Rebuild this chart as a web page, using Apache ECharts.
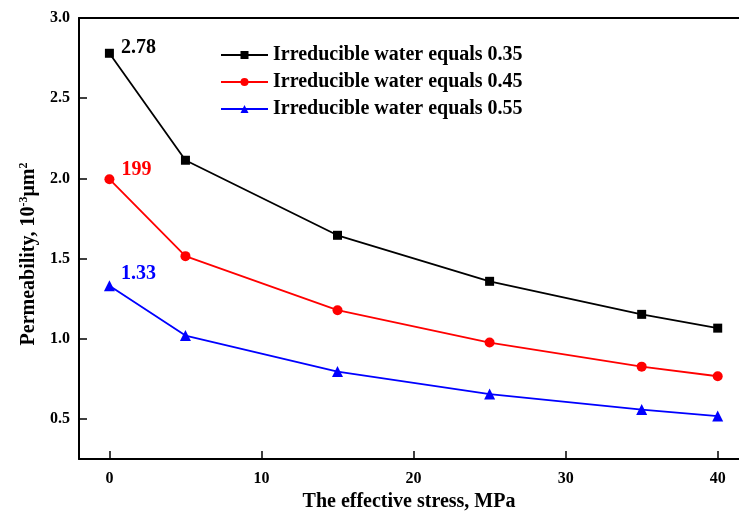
<!DOCTYPE html>
<html>
<head>
<meta charset="utf-8">
<script src="https://cdn.jsdelivr.net/npm/echarts@6/dist/echarts.min.js"></script>
<style>html,body{margin:0;padding:0;background:#fff;}#c{width:739px;height:518px;}</style>
</head>
<body>
<div id="c"></div>
<script>
var stress = [0, 5, 15, 25, 35, 40];
var water035 = [2.78, 2.113, 1.645, 1.358, 1.152, 1.066];
var water045 = [1.995, 1.515, 1.178, 0.976, 0.826, 0.766];
var water055 = [1.33, 1.02, 0.795, 0.655, 0.558, 0.518];
var seriesNames = ['Irreducible water equals 0.35', 'Irreducible water equals 0.45', 'Irreducible water equals 0.55'];
var firstLabels = ['2.78', '199', '1.33'];
var xTicks = [0, 10, 20, 30, 40];
var yTicks = [0.5, 1.0, 1.5, 2.0, 2.5, 3.0];

var FONT = '"Liberation Serif", "Times New Roman", serif';
var colors = ['#000000', '#ff0000', '#0000ff'];
var symbols = ['rect', 'circle', 'triangle'];
var symSizes = [9, 10, 11];
var labelOffsets = [[-4, -5], [-4, -9], [-5, -12]];
var values = [water035, water045, water055];

function makeSeries(i) {
  var data = stress.map(function (x, k) {
    var item = { value: [x, values[i][k]] };
    if (k === 0) {
      item.label = {
        show: true, position: 'right', distance: 11, offset: labelOffsets[i],
        formatter: firstLabels[i], color: colors[i],
        fontFamily: FONT, fontWeight: 'bold', fontSize: 20
      };
    }
    return item;
  });
  return {
    name: seriesNames[i], type: 'line', data: data,
    symbol: symbols[i], symbolSize: symSizes[i], showSymbol: true,
    lineStyle: { color: colors[i], width: 1.8 },
    itemStyle: { color: colors[i] },
    label: { show: false },
    emphasis: { disabled: true },
    animation: false, z: 3 - i
  };
}

var chart = echarts.init(document.getElementById('c'));
chart.setOption({
  backgroundColor: '#ffffff',
  animation: false,
  grid: { left: 79, top: 18, right: 0, bottom: 59 },
  legend: {
    orient: 'vertical', left: 220, top: 45, itemGap: 7, padding: 0,
    itemWidth: 47, itemHeight: 10,
    data: seriesNames,
    textStyle: { fontFamily: FONT, fontWeight: 'bold', fontSize: 20, color: '#000', lineHeight: 20 }
  },
  xAxis: [{
    type: 'value', min: -2, max: 41.4,
    splitLine: { show: false },
    axisLine: { onZero: false, lineStyle: { color: '#000', width: 2 } },
    axisTick: { inside: true, length: 8, customValues: xTicks, lineStyle: { color: '#000', width: 1.5 } },
    axisLabel: { customValues: xTicks, margin: 12, color: '#000', fontFamily: FONT, fontWeight: 'bold', fontSize: 16 },
    name: 'The effective stress, MPa', nameLocation: 'middle', nameGap: 25,
    nameTextStyle: { fontFamily: FONT, fontWeight: 'bold', fontSize: 20, color: '#000' }
  }, {
    type: 'value', position: 'top', min: -2, max: 41.4,
    splitLine: { show: false },
    axisLine: { show: true, onZero: false, lineStyle: { color: '#000', width: 2 } },
    axisTick: { show: false }, axisLabel: { show: false }
  }],
  yAxis: {
    type: 'value', min: 0.25, max: 3.0,
    splitLine: { show: false },
    axisLine: { show: true, onZero: false, lineStyle: { color: '#000', width: 2 } },
    axisTick: { show: true, inside: true, length: 8, customValues: yTicks, lineStyle: { color: '#000', width: 1.5 } },
    axisLabel: {
      customValues: yTicks, margin: 9, color: '#000', fontFamily: FONT, fontWeight: 'bold', fontSize: 16,
      formatter: function (v) { return Number(v).toFixed(1); }
    }
  },
  graphic: [{
    type: 'text', x: 29, y: 254, rotation: Math.PI / 2,
    style: {
      text: '{a|Permeability, 10}{s|-3}{a|μm}{s|2}',
      align: 'center', verticalAlign: 'middle',
      rich: {
        a: { fontFamily: FONT, fontWeight: 'bold', fontSize: 20, fill: '#000' },
        s: { fontFamily: FONT, fontWeight: 'bold', fontSize: 12, fill: '#000', padding: [0, 0, 11, 0] }
      }
    }
  }],
  series: [makeSeries(0), makeSeries(1), makeSeries(2)]
});
</script>
</body>
</html>
